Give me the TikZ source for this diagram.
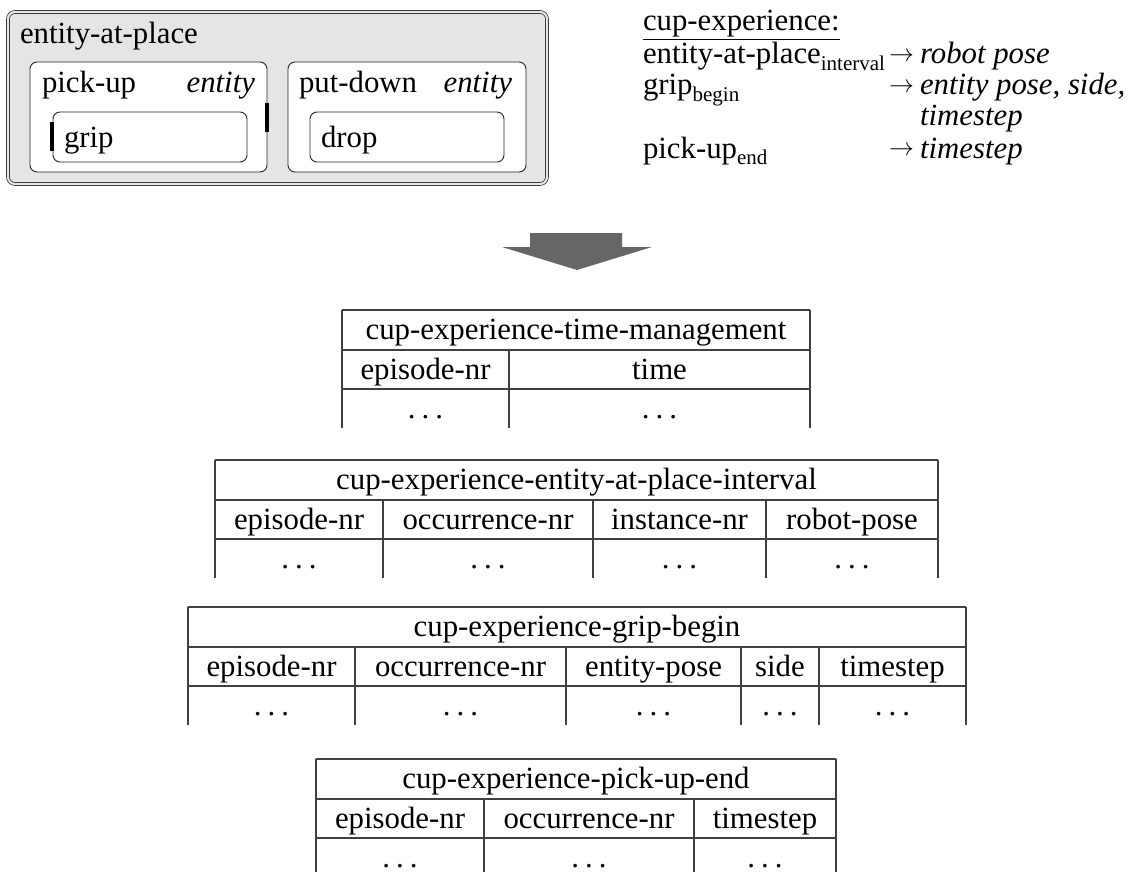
\documentclass[tikz,border=0pt]{standalone}
\usepackage{fontspec}
\setmainfont{Liberation Serif}
\tikzset{
  txt/.style={inner sep=0pt, outer sep=0pt, font=\fontsize{30.8}{30.8}\selectfont},
  arr/.style={inner sep=0pt, outer sep=0pt, font=\fontsize{26}{26}\selectfont},
  outerbox/.style={draw=black!85, line width=0.7pt, double=black!10, double distance=2.2pt, fill=black!10, rounded corners=7pt},
  innerbox/.style={draw=black!85, line width=0.9pt, fill=white, rounded corners=7pt},
  bar/.style={line width=3.2pt, black},
  tline/.style={line width=1.1pt, black!75},
  bigarrow/.style={fill=black!60, draw=none}
}
\newcommand{\sbs}[1]{\raisebox{-0.22em}{\fontsize{21}{21}\selectfont #1}}
\newcommand{\dts}{.\hspace{0.2em}.\hspace{0.2em}.}
\begin{document}
\begin{tikzpicture}[x=1pt,y=-1pt]
\useasboundingbox (0,0) rectangle (1146,872);
% ---- top-left composite box
\draw[outerbox] (8,12) rectangle (547,184);
\draw[innerbox] (30,62) rectangle (267,172);
\draw[innerbox] (288,62) rectangle (526,172);
\draw[innerbox] (53,112) rectangle (247,162);
\draw[innerbox] (310,112) rectangle (504,162);
\draw[bar] (52,122) -- (52,151);
\draw[bar] (267,103) -- (267,132);
\node[txt, anchor=base west] (eap) at (20,44) {entity-at-place};
\node[txt, anchor=base west] (pu) at (42,93) {pick-up};
\node[txt, anchor=base east] (pue) at (255,93) {\itshape entity};
\node[txt, anchor=base west] (gr) at (64,147) {grip};
\node[txt, anchor=base west] (pd) at (299,93) {put-down};
\node[txt, anchor=base east] (pde) at (512,93) {\itshape entity};
\node[txt, anchor=base west] (dr) at (321,147) {drop};
% ---- right text
\node[txt, anchor=base west] (ce) at (643,31) {\underline{cup-experience:}};
\node[txt, anchor=base west] (r1) at (643,64) {entity-at-place\sbs{interval}};
\node[arr, anchor=base west] (a1) at (889,62) {$\rightarrow$};
\node[txt, anchor=base west] (v1) at (920,64) {\itshape robot pose};
\node[txt, anchor=base west] (r2) at (643,95) {grip\sbs{begin}};
\node[arr, anchor=base west] (a2) at (889,93) {$\rightarrow$};
\node[txt, anchor=base west] (v2) at (920,95) {\itshape entity pose, side,};
\node[txt, anchor=base west] (v3) at (920,126) {\itshape timestep};
\node[txt, anchor=base west] (r4) at (643,158) {pick-up\sbs{end}};
\node[arr, anchor=base west] (a4) at (889,156) {$\rightarrow$};
\node[txt, anchor=base west] (v4) at (920,158) {\itshape timestep};
% ---- big arrow
\fill[bigarrow] (530,233) -- (622,233) -- (622,247) -- (652,247) -- (577,270) -- (502,247) -- (530,247) -- cycle;
% ---- tables
% T1
\def\ty{310}
\draw[tline] (342,\ty) -- (810,\ty);
\draw[tline] (342,\ty+40) -- (810,\ty+40);
\draw[tline] (342,\ty+79) -- (810,\ty+79);
\foreach \x in {342,810} \draw[tline] (\x,\ty) -- (\x,\ty+118);
\foreach \x in {509} \draw[tline] (\x,\ty+40) -- (\x,\ty+118);
\node[txt, anchor=base] (t1t) at (576,\ty+29) {cup-experience-time-management};
\node[txt, anchor=base] (t1a) at (425.5,\ty+69) {episode-nr};
\node[txt, anchor=base] (t1b) at (659.5,\ty+69) {time};
\node[txt, anchor=base] (t1ad) at (425.5,\ty+108) {\dts};
\node[txt, anchor=base] (t1bd) at (659.5,\ty+108) {\dts};
% T2
\def\ty{460}
\draw[tline] (215,\ty) -- (938,\ty);
\draw[tline] (215,\ty+40) -- (938,\ty+40);
\draw[tline] (215,\ty+79) -- (938,\ty+79);
\foreach \x in {215,938} \draw[tline] (\x,\ty) -- (\x,\ty+118);
\foreach \x in {383,593,766} \draw[tline] (\x,\ty+40) -- (\x,\ty+118);
\node[txt, anchor=base] (t2t) at (576.5,\ty+29) {cup-experience-entity-at-place-interval};
\node[txt, anchor=base] (t2a) at (299,\ty+69) {episode-nr};
\node[txt, anchor=base] (t2b) at (488,\ty+69) {occurrence-nr};
\node[txt, anchor=base] (t2c) at (679.5,\ty+69) {instance-nr};
\node[txt, anchor=base] (t2d) at (852,\ty+69) {robot-pose};
\foreach \x/\n in {299/a,488/b,679.5/c,852/d} \node[txt, anchor=base] (t2\n d) at (\x,\ty+108) {\dts};
% T3
\def\ty{607}
\draw[tline] (188,\ty) -- (966,\ty);
\draw[tline] (188,\ty+40) -- (966,\ty+40);
\draw[tline] (188,\ty+79) -- (966,\ty+79);
\foreach \x in {188,966} \draw[tline] (\x,\ty) -- (\x,\ty+118);
\foreach \x in {355,566,741,819} \draw[tline] (\x,\ty+40) -- (\x,\ty+118);
\node[txt, anchor=base] (t3t) at (577,\ty+29) {cup-experience-grip-begin};
\node[txt, anchor=base] (t3a) at (271.5,\ty+69) {episode-nr};
\node[txt, anchor=base] (t3b) at (460.5,\ty+69) {occurrence-nr};
\node[txt, anchor=base] (t3c) at (653.5,\ty+69) {entity-pose};
\node[txt, anchor=base] (t3d) at (780,\ty+69) {side};
\node[txt, anchor=base] (t3e) at (892.5,\ty+69) {timestep};
\foreach \x/\n in {271.5/a,460.5/b,653.5/c,780/d,892.5/e} \node[txt, anchor=base] (t3\n d) at (\x,\ty+108) {\dts};
% T4
\def\ty{759}
\draw[tline] (316,\ty) -- (836,\ty);
\draw[tline] (316,\ty+40) -- (836,\ty+40);
\draw[tline] (316,\ty+79) -- (836,\ty+79);
\foreach \x in {316,836} \draw[tline] (\x,\ty) -- (\x,\ty+118);
\foreach \x in {484,694} \draw[tline] (\x,\ty+40) -- (\x,\ty+118);
\node[txt, anchor=base] (t4t) at (576,\ty+29) {cup-experience-pick-up-end};
\node[txt, anchor=base] (t4a) at (400,\ty+69) {episode-nr};
\node[txt, anchor=base] (t4b) at (589,\ty+69) {occurrence-nr};
\node[txt, anchor=base] (t4c) at (765,\ty+69) {timestep};
\foreach \x/\n in {400/a,589/b,765/c} \node[txt, anchor=base] (t4\n d) at (\x,\ty+108) {\dts};
\end{tikzpicture}
\end{document}
